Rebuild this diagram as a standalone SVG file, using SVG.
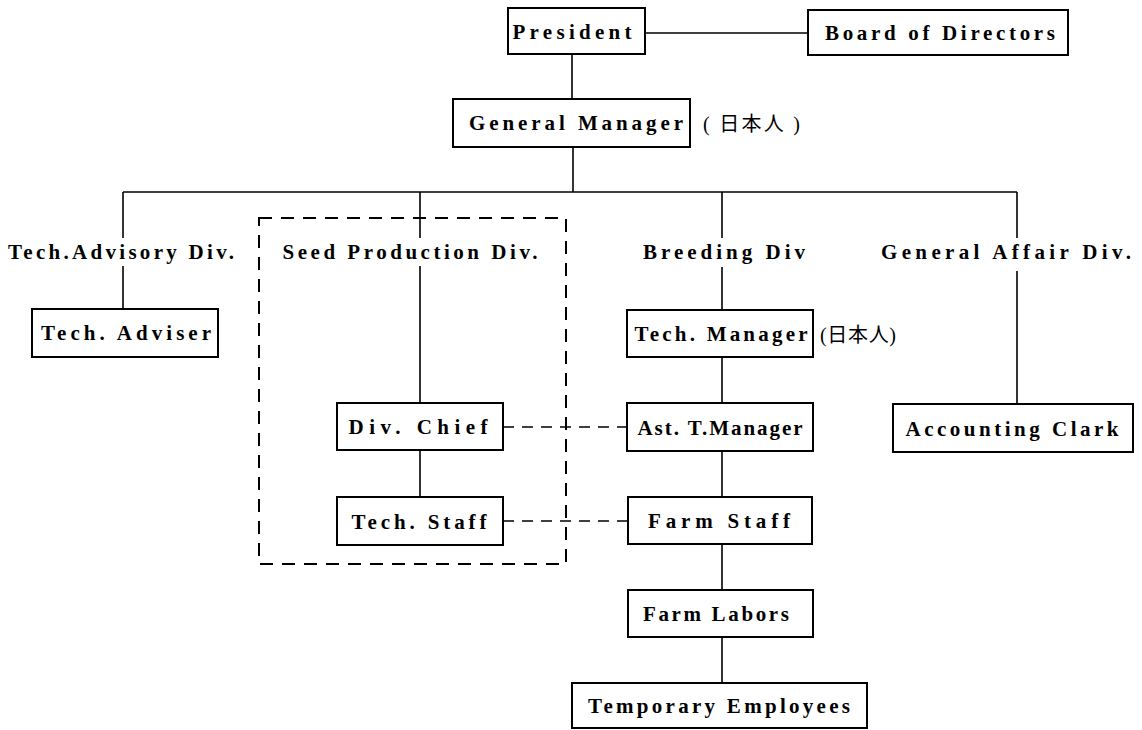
<svg xmlns="http://www.w3.org/2000/svg" width="1142" height="730" viewBox="0 0 1142 730">
<style>
.box{fill:#fff;stroke:#000;stroke-width:2}
.t{font-family:"Liberation Serif","Times New Roman",serif;font-size:21px;font-weight:bold;fill:#000;text-anchor:middle}
.j{font-family:"Liberation Serif","Noto Sans CJK JP",serif;font-size:20px;fill:#000}
.ln{stroke:#000;stroke-width:1.6;fill:none}
.dl{stroke:#000;stroke-width:1.6;fill:none;stroke-dasharray:11 8}
.db{stroke:#000;stroke-width:2;fill:none;stroke-dasharray:13 9}
</style>
<rect width="1142" height="730" fill="#fff"/>
<g id="connectors">
<line class="ln" x1="645" y1="33" x2="808" y2="33"/>
<line class="ln" x1="572" y1="54" x2="572" y2="99"/>
<line class="ln" x1="573" y1="147" x2="573" y2="192"/>
<line class="ln" x1="123" y1="192" x2="1017" y2="192"/>
<line class="ln" x1="123" y1="192" x2="123" y2="238"/>
<line class="ln" x1="123" y1="266" x2="123" y2="309"/>
<line class="ln" x1="420" y1="192" x2="420" y2="238"/>
<line class="ln" x1="420" y1="266" x2="420" y2="403"/>
<line class="ln" x1="420" y1="450" x2="420" y2="497"/>
<line class="ln" x1="722" y1="192" x2="722" y2="238"/>
<line class="ln" x1="722" y1="267" x2="722" y2="310"/>
<line class="ln" x1="722" y1="357" x2="722" y2="403"/>
<line class="ln" x1="722" y1="451" x2="722" y2="497"/>
<line class="ln" x1="722" y1="544" x2="722" y2="590"/>
<line class="ln" x1="722" y1="637" x2="722" y2="683"/>
<line class="ln" x1="1017" y1="192" x2="1017" y2="238"/>
<line class="ln" x1="1017" y1="271" x2="1017" y2="404"/>
<line class="dl" x1="503" y1="427" x2="627" y2="427"/>
<line class="dl" x1="503" y1="521" x2="628" y2="521"/>
<rect class="db" x="259" y="218" width="307" height="346"/>
</g>
<g id="president"><rect class="box" x="508" y="8" width="137" height="46"/><text class="t" x="572" y="39" textLength="119" lengthAdjust="spacing">President</text></g>
<g id="board"><rect class="box" x="808" y="10" width="260" height="45"/><text class="t" x="940" y="40" textLength="230" lengthAdjust="spacing">Board of Directors</text></g>
<g id="general-manager"><rect class="box" x="453" y="99" width="237" height="48"/><text class="t" x="576" y="130" textLength="214" lengthAdjust="spacing">General Manager</text><text class="j" x="703" y="131" textLength="97" lengthAdjust="spacing">( 日本人 )</text></g>
<g id="tech-advisory-div"><text class="t" x="121" y="259" textLength="226" lengthAdjust="spacing">Tech.Advisory Div.</text></g>
<g id="seed-production-div"><text class="t" x="410" y="259" textLength="255" lengthAdjust="spacing">Seed Production Div.</text></g>
<g id="breeding-div"><text class="t" x="724" y="259" textLength="162" lengthAdjust="spacing">Breeding Div</text></g>
<g id="general-affair-div"><text class="t" x="1006" y="259" textLength="250" lengthAdjust="spacing">General Affair Div.</text></g>
<g id="tech-adviser"><rect class="box" x="32" y="309" width="186" height="48"/><text class="t" x="126" y="340" textLength="170" lengthAdjust="spacing">Tech. Adviser</text></g>
<g id="tech-manager"><rect class="box" x="627" y="310" width="186" height="47"/><text class="t" x="721" y="341" textLength="173" lengthAdjust="spacing">Tech. Manager</text><text class="j" x="820" y="342" textLength="76" lengthAdjust="spacing">(日本人)</text></g>
<g id="div-chief"><rect class="box" x="337" y="403" width="166" height="47"/><text class="t" x="418" y="434" textLength="139" lengthAdjust="spacing">Div. Chief</text></g>
<g id="ast-t-manager"><rect class="box" x="627" y="403" width="186" height="48"/><text class="t" x="720" y="435" textLength="165" lengthAdjust="spacing">Ast. T.Manager</text></g>
<g id="accounting-clark"><rect class="box" x="893" y="404" width="240" height="48"/><text class="t" x="1012" y="436" textLength="213" lengthAdjust="spacing">Accounting Clark</text></g>
<g id="tech-staff"><rect class="box" x="337" y="497" width="166" height="48"/><text class="t" x="419" y="529" textLength="135" lengthAdjust="spacing">Tech. Staff</text></g>
<g id="farm-staff"><rect class="box" x="628" y="497" width="184" height="47"/><text class="t" x="719" y="528" textLength="142" lengthAdjust="spacing">Farm Staff</text></g>
<g id="farm-labors"><rect class="box" x="628" y="590" width="185" height="47"/><text class="t" x="716" y="621" textLength="146" lengthAdjust="spacing">Farm Labors</text></g>
<g id="temporary-employees"><rect class="box" x="572" y="683" width="295" height="45"/><text class="t" x="719" y="713" textLength="262" lengthAdjust="spacing">Temporary Employees</text></g>
</svg>
